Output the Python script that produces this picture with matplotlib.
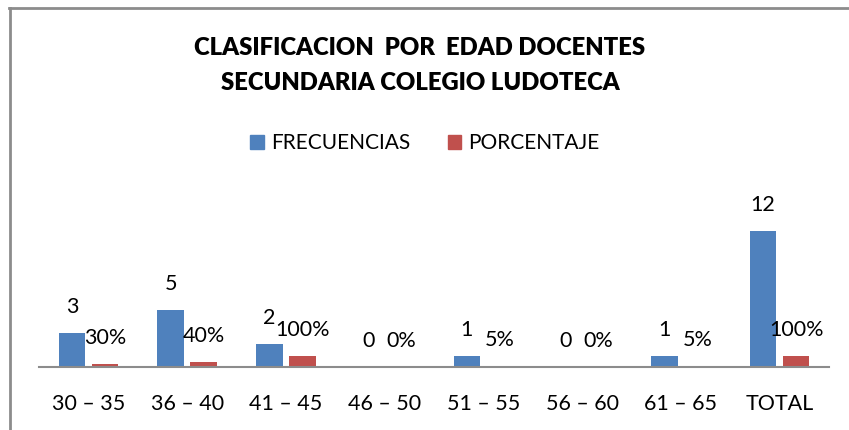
import numpy as np
import matplotlib
matplotlib.use('Agg')
import matplotlib.pyplot as plt
from matplotlib.patches import Patch

plt.rcParams['font.family'] = ['Lato', 'DejaVu Sans']

# datos del grafico
categorias = ['30 – 35', '36 – 40', '41 – 45', '46 – 50', '51 – 55', '56 – 60', '61 – 65', 'TOTAL']
frecuencias = [3, 5, 2, 0, 1, 0, 1, 12]
porcentaje = [0.30, 0.40, 1.00, 0.0, 0.05, 0.0, 0.05, 1.00]
etiquetas_pct = ['30%', '40%', '100%', '0%', '5%', '0%', '5%', '100%']

AZUL = '#4F81BD'
ROJO = '#C0504D'

fig = plt.figure(figsize=(8.49, 4.30), dpi=100)

# marco del grafico (solo arriba e izquierda, la imagen esta recortada)
W, H = 849, 430
fig.add_artist(plt.Line2D([9 / W, 1], [1 - 7.5 / H, 1 - 7.5 / H], color='#8c8c8c', lw=2))
fig.add_artist(plt.Line2D([9.5 / W, 9.5 / W], [0, 1 - 7.5 / H], color='#8c8c8c', lw=2))

ax = fig.add_axes([39 / W, (H - 367) / H, 790 / W, 158.7 / H])
x = np.arange(len(categorias))
ancho = 0.27
off = 0.167

ax.bar(x - off, frecuencias, ancho, color=AZUL, label='FRECUENCIAS')
ax.bar(x + off, porcentaje, ancho, color=ROJO, label='PORCENTAJE')

for xi, v in zip(x, frecuencias):
    ax.annotate(str(v), (xi - off, v), xytext=(0, 18.7), textcoords='offset points',
                ha='center', va='center', fontsize=15.5)
for xi, v, t in zip(x, porcentaje, etiquetas_pct):
    ax.annotate(t, (xi + off, v), xytext=(0, 18.7), textcoords='offset points',
                ha='center', va='center', fontsize=15.5)

ax.set_xlim(-0.5, len(categorias) - 0.5)
ax.set_ylim(0, 14)
ax.set_xticks(x)
ax.set_xticklabels(categorias, fontsize=15.5)
ax.tick_params(axis='x', length=0, pad=19.5)
ax.set_yticks([])
for s in ['top', 'right', 'left']:
    ax.spines[s].set_visible(False)
ax.spines['bottom'].set_color('#8c8c8c')
ax.spines['bottom'].set_linewidth(1.5)

fig.text(420 / W, 1 - 48 / H, 'CLASIFICACION  POR  EDAD DOCENTES', ha='center', va='center',
         fontsize=17.2, fontweight='heavy')
fig.text(420 / W, 1 - 83 / H, 'SECUNDARIA COLEGIO LUDOTECA', ha='center', va='center',
         fontsize=17.2, fontweight='heavy')

fig.legend(handles=[Patch(color=AZUL, label='FRECUENCIAS'), Patch(color=ROJO, label='PORCENTAJE')],
           loc='center', bbox_to_anchor=(425 / W, 1 - 143 / H), ncol=2, frameon=False,
           fontsize=15, handlelength=0.65, handleheight=0.65, handletextpad=0.35, columnspacing=1.8)

fig.savefig('out.png', dpi=100)
